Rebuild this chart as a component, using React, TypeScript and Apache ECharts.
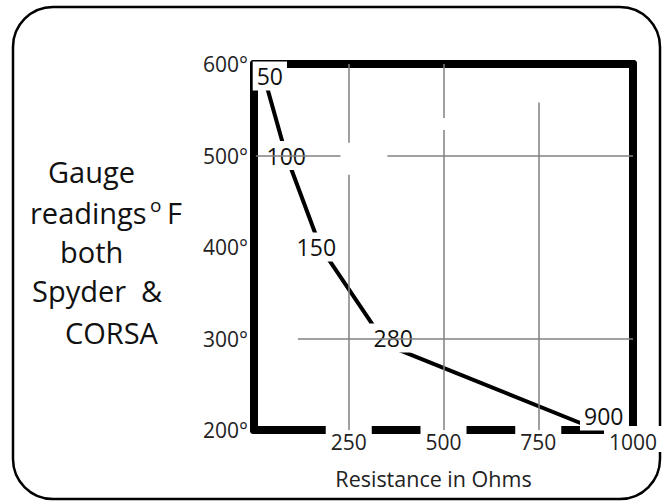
import React, { useEffect, useRef } from 'react';
import * as echarts from 'echarts';

const resistanceLabels = ['50', '100', '150', '280', '900'];
const resistanceX = [26, 85, 175, 349, 907];
const gaugeTemps = [587, 500, 400, 293, 200];
const labelOffsets = [[6, 0], [0, 0], [-4, 0], [7, -7], [6, -14]];
const gridSegments = [
  [[250, 600], [250, 514]],
  [[250, 479], [250, 200]],
  [[500, 600], [500, 541]],
  [[500, 528], [500, 200]],
  [[750, 558], [750, 200]],
  [[5, 500], [228, 500]],
  [[352, 500], [1000, 500]],
  [[116, 300], [1000, 300]],
];
const xAxisTitle = 'Resistance in Ohms';

const FONT = 'Open Sans';

export default function App() {
  const ref = useRef<HTMLDivElement>(null);
  useEffect(() => {
    const chart = echarts.init(ref.current!, null, { renderer: 'svg' });
    const thick = { show: true, onZero: false, lineStyle: { color: '#000', width: 8 } };
    const titleText = (text: string, x: number, y: number, size = 29) => ({
      type: 'text',
      x,
      y,
      z: 10,
      style: { text, fontSize: size, fontFamily: FONT, fill: '#111', verticalAlign: 'middle' },
    });
    chart.setOption({
      animation: false,
      textStyle: { fontFamily: FONT },
      grid: { left: 254, right: 37, top: 64, bottom: 71 },
      xAxis: [
        {
          type: 'value', min: 0, max: 1000, interval: 250, position: 'bottom', z: 2,
          axisLine: thick, axisTick: { show: false }, splitLine: { show: false },
          axisLabel: {
            showMinLabel: false, fontSize: 21, fontFamily: FONT, color: '#222',
            backgroundColor: '#fff', padding: [5, 5, 0, 5], margin: -4,
            formatter: (v: number) => String(v),
          },
          name: xAxisTitle, nameLocation: 'middle', nameGap: 37,
          nameTextStyle: { fontSize: 21.5, fontFamily: FONT, color: '#222', padding: [0, 20, 0, 0] },
        },
        {
          type: 'value', min: 0, max: 1000, position: 'top', z: 2,
          axisLine: thick, axisTick: { show: false }, splitLine: { show: false }, axisLabel: { show: false },
        },
      ],
      yAxis: [
        {
          type: 'value', min: 200, max: 600, interval: 100, position: 'left', z: 2,
          axisLine: thick, axisTick: { show: false }, splitLine: { show: false },
          axisLabel: { formatter: '{value}°', fontSize: 21, fontFamily: FONT, color: '#222', margin: 6 },
        },
        {
          type: 'value', min: 200, max: 600, position: 'right', z: 2,
          axisLine: thick, axisTick: { show: false }, splitLine: { show: false }, axisLabel: { show: false },
        },
      ],
      series: [
        {
          type: 'line',
          data: [],
          z: 1,
          silent: true,
          markLine: {
            silent: true,
            symbol: ['none', 'none'],
            label: { show: false },
            lineStyle: { color: '#808080', width: 1.5, type: 'solid' },
            data: gridSegments.map(([a, b]) => [{ coord: a }, { coord: b }]),
          },
        },
        {
          type: 'line',
          z: 3,
          data: resistanceX.map((x, i) => ({
            value: [x, gaugeTemps[i]],
            label: { offset: labelOffsets[i] },
          })),
          lineStyle: { color: '#000', width: 4 },
          symbol: 'circle',
          symbolSize: 1,
          itemStyle: { color: '#000' },
          label: {
            show: true,
            position: 'inside',
            formatter: (p: any) => resistanceLabels[p.dataIndex],
            fontSize: 23,
            fontFamily: FONT,
            color: '#111',
            backgroundColor: '#fff',
            padding: [3, 4],
          },
        },
      ],
      graphic: [
        {
          type: 'rect',
          shape: { x: 13, y: 7, width: 647, height: 492, r: 40 },
          style: { fill: 'none', stroke: '#000', lineWidth: 2.5 },
        },
        titleText('Gauge', 48, 171),
        titleText('readings', 30, 212),
        titleText('o', 150, 205, 19),
        titleText('F', 167, 212),
        titleText('both', 60, 251),
        titleText('Spyder  &', 32, 290),
        titleText('CORSA', 65, 332),
      ],
    });
    return () => chart.dispose();
  }, []);
  return <div ref={ref} style={{ position: 'absolute', left: 0, top: 0, width: 670, height: 501 }} />;
}
